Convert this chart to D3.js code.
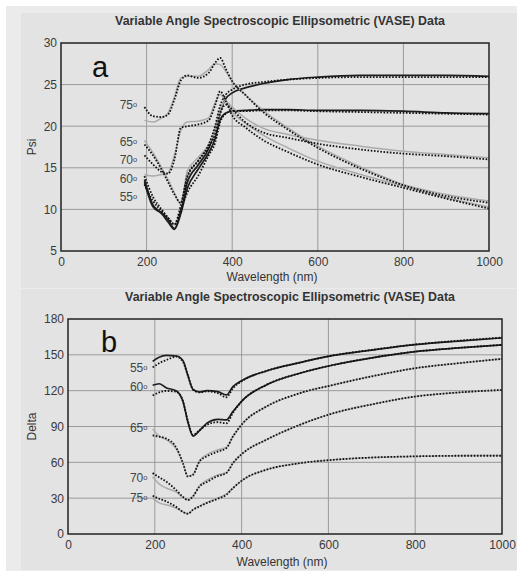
<!DOCTYPE html>
<meta charset="utf-8">
<html>
<head>
<script src="https://cdn.jsdelivr.net/npm/d3@7"></script>
<style>
  body { margin: 0; background: #fff; }
  text { font-family: "Liberation Sans", Arial, sans-serif; }
</style>
</head>
<body>
<div id="chart"></div>
<script>

// ---- data ----
var title = "Variable Angle Spectroscopic Ellipsometric (VASE) Data";
var angles = [55, 60, 65, 70, 75];
var xTicks = [0, 200, 400, 600, 800, 1000];
var psiTicks = [5, 10, 15, 20, 25, 30];
var deltaTicks = [0, 30, 60, 90, 120, 150, 180];

// Psi (top panel)
var wavePsi = [195, 215, 235, 250, 265, 280, 295, 320, 345, 360, 372, 385, 400, 430, 470, 530, 600, 700, 800, 900, 1000];
var psiMeas55 = [13.6, 10.5, 9.6, 8.8, 7.7, 9.8, 13.2, 15.3, 17.3, 19.5, 21.8, 23.3, 24.0, 24.6, 25.1, 25.6, 25.9, 26.1, 26.1, 26.1, 26.0];
var psiModel55 = [13.0, 11.0, 9.8, 9.0, 8.2, 10.5, 13.8, 15.8, 17.8, 20.0, 22.5, 23.8, 24.4, 25.0, 25.3, 25.6, 25.8, 25.9, 25.9, 25.9, 25.9];
var psiMeas60 = [13.3, 10.3, 9.5, 8.5, 7.6, 9.5, 12.5, 14.8, 16.8, 18.5, 20.8, 21.6, 21.8, 21.9, 22.0, 22.0, 21.9, 21.9, 21.8, 21.6, 21.5];
var psiModel60 = [14.0, 11.5, 10.0, 9.0, 8.2, 10.0, 12.0, 14.0, 16.5, 18.0, 20.5, 21.5, 21.8, 21.8, 21.9, 21.9, 21.8, 21.7, 21.6, 21.5, 21.4];
var psiMeas65 = [18.3, 16.8, 15.0, 13.6, 12.0, 10.6, 14.6, 16.2, 17.8, 19.5, 22.0, 23.0, 22.3, 21.0, 19.8, 19.0, 18.3, 17.6, 17.0, 16.6, 16.2];
var psiModel65 = [17.8, 16.5, 14.8, 13.3, 11.8, 10.8, 14.0, 15.8, 17.5, 19.0, 21.5, 22.6, 22.0, 20.5, 19.3, 18.6, 17.9, 17.2, 16.7, 16.4, 16.0];
var psiMeas70 = [14.2, 14.0, 14.2, 14.4, 16.5, 19.5, 20.5, 20.6, 21.0, 22.8, 23.8, 23.0, 21.7, 20.4, 19.0, 17.4, 15.8, 14.2, 12.8, 11.4, 10.3];
var psiModel70 = [16.5, 15.4, 14.5, 14.3, 16.0, 19.8, 20.0, 20.2, 20.7, 22.5, 24.2, 23.0, 21.3, 19.9, 18.4, 16.9, 15.4, 13.9, 12.6, 11.3, 10.1];
var psiMeas75 = [20.7, 20.5, 21.0, 21.6, 23.5, 25.8, 26.0, 26.0, 26.8, 27.5, 27.4, 26.6, 25.4, 23.8, 22.0, 19.8, 17.6, 15.1, 13.0, 11.8, 11.0];
var psiModel75 = [22.3, 21.2, 21.1, 21.4, 23.2, 25.5, 26.1, 25.8, 26.4, 27.6, 28.2, 26.9, 25.4, 23.8, 21.8, 19.6, 17.4, 14.9, 12.9, 11.6, 10.8];
var psiLabelAt = [11.5, 13.6, 18.1, 15.9, 22.5];

// Delta (bottom panel)
var waveDelta = [195, 210, 226, 250, 265, 276, 288, 303, 320, 345, 365, 380, 403, 457, 534, 611, 700, 800, 900, 1000];
var deltaMeas55 = [144.5, 148, 149.5, 149, 145, 133, 121, 118.9, 120, 119.2, 116.4, 123.4, 129, 136.5, 143.5, 149.5, 154, 158.5, 161.5, 164.2];
var deltaModel55 = [139.5, 143, 145.5, 148.5, 144, 133, 121, 118.5, 119.5, 118, 114.5, 122, 128.5, 136.5, 143.5, 149.5, 154.2, 158.7, 161.8, 164.5];
var deltaMeas60 = [124.5, 125.8, 122.5, 119.8, 111, 94, 82, 86.5, 92.8, 96, 95.6, 102.5, 112.3, 124.8, 134.6, 141.5, 147.5, 152.7, 155.8, 158.3];
var deltaModel60 = [116, 118.5, 119.8, 119, 111, 95, 83, 87, 91.4, 93.6, 92.7, 101.5, 112, 124.8, 134.6, 141.5, 147.5, 152.7, 155.8, 158.3];
var deltaMeas65 = [88, 82, 79, 71, 59, 48.5, 50, 61.5, 66.5, 70.5, 72.5, 81.6, 92.8, 106.7, 117.9, 124.8, 132, 138.8, 143, 146.6];
var deltaModel65 = [82.5, 81.5, 80, 72, 59.3, 48.2, 49.6, 60.7, 65, 69, 71.9, 81.6, 92.8, 106.7, 117.9, 124.8, 132, 138.8, 143, 146.6];
var deltaMeas70 = [48, 42, 38.5, 35, 30.5, 28.5, 31.5, 40.5, 45, 49.5, 51.5, 59.3, 67.7, 78.9, 91.4, 101.1, 108.5, 115.1, 118.5, 120.6];
var deltaModel70 = [51, 47.5, 44, 36.5, 31, 28.5, 31.5, 39.8, 43.5, 48.5, 51, 59.3, 67.7, 78.9, 91.4, 101.1, 108.5, 115.1, 118.5, 120.6];
var deltaMeas75 = [30, 26, 24.5, 21.5, 18.5, 17, 20.3, 23.5, 26.5, 30, 33.5, 38.4, 45.4, 53.8, 59.3, 62.1, 64, 65, 65.5, 65.8];
var deltaModel75 = [32, 29.5, 27.3, 22.5, 18.5, 17, 20.3, 23, 25.9, 29.5, 32.9, 38.4, 45.4, 53.8, 59.3, 62.1, 64, 65, 65.5, 65.5];
var deltaLabelAt = [139, 123, 89, 47, 30];

var W = 517, H = 571;

var svg = d3.select('#chart').append('svg')
  .attr('width', W).attr('height', H);

// page backgrounds
svg.append('rect').attr('x', 6).attr('y', 6).attr('width', W - 6).attr('height', H - 6).attr('fill', '#ebebeb');
svg.append('rect').attr('x', 21).attr('y', 13).attr('width', W - 21).attr('height', 275).attr('fill', '#e3e3e3');
svg.append('rect').attr('x', 21).attr('y', 289).attr('width', W - 21).attr('height', 281).attr('fill', '#e3e3e3');

function drawPanel(p) {
  var x = d3.scaleLinear().domain([0, 1000]).range([p.left, p.right]);
  var y = d3.scaleLinear().domain(p.yDomain).range([p.bottom, p.top]);
  var g = svg.append('g');

  // title
  g.append('text').attr('x', (p.left + p.right) / 2 + 5).attr('y', p.titleY)
    .attr('text-anchor', 'middle').attr('font-weight', 'bold')
    .attr('font-size', 12.4).attr('fill', '#333').text(title);

  // grid
  g.selectAll('.vg').data(xTicks.slice(1, -1)).enter().append('line')
    .attr('x1', d => x(d)).attr('x2', d => x(d))
    .attr('y1', p.top).attr('y2', p.bottom)
    .attr('stroke', '#9a9a9a').attr('stroke-width', 1);
  g.selectAll('.hg').data(p.yTicks.slice(1, -1)).enter().append('line')
    .attr('x1', p.left).attr('x2', p.right)
    .attr('y1', d => y(d)).attr('y2', d => y(d))
    .attr('stroke', '#9a9a9a').attr('stroke-width', 1);

  // axes (labels only)
  var xa = g.append('g').attr('transform', 'translate(0,' + p.bottom + ')')
    .call(d3.axisBottom(x).tickValues(xTicks).tickFormat(d3.format('d')).tickSize(0).tickPadding(p.xPad));
  var ya = g.append('g').attr('transform', 'translate(' + p.left + ',0)')
    .call(d3.axisLeft(y).tickValues(p.yTicks).tickFormat(d3.format('d')).tickSize(0).tickPadding(4));
  [xa, ya].forEach(function(a) {
    a.select('.domain').remove();
    a.selectAll('text').attr('font-size', 12).attr('fill', '#3a3a3a')
      .style('font-family', '"Liberation Sans", Arial, sans-serif');
  });

  // series
  var line = d3.line().x(d => x(d[0])).y(d => y(d[1])).curve(d3.curveMonotoneX);
  p.meas.forEach(function(vals, i) {
    g.append('path').datum(p.wave.map((w, j) => [w, vals[j]]))
      .attr('d', line).attr('fill', 'none')
      .attr('stroke', i < 2 ? '#1e1e1e' : '#ababab')
      .attr('stroke-width', i < 2 ? 1.7 : 1.5);
  });
  p.model.forEach(function(vals) {
    g.append('path').datum(p.wave.map((w, j) => [w, vals[j]]))
      .attr('d', line).attr('fill', 'none')
      .attr('stroke', '#111').attr('stroke-width', 1.8)
      .attr('stroke-dasharray', '1.6,1.6');
  });

  // angle labels
  angles.forEach(function(a, i) {
    var t = g.append('text').attr('x', x(p.labelX)).attr('y', y(p.labelAt[i]) + 4)
      .attr('text-anchor', 'end').attr('font-size', 12).attr('fill', '#444');
    t.append('tspan').text(a);
    t.append('tspan').attr('font-size', 7.5).attr('dy', -2).text('o');
  });

  // frame
  g.append('rect').attr('x', p.left).attr('y', p.top)
    .attr('width', p.right - p.left).attr('height', p.bottom - p.top)
    .attr('fill', 'none').attr('stroke', '#222').attr('stroke-width', 1.5);

  // panel letter
  g.append('text').attr('x', p.letterX).attr('y', p.letterY)
    .attr('font-size', 29).attr('fill', '#111').text(p.letter);

  // axis titles
  g.append('text').attr('x', (p.left + p.right) / 2 - 3).attr('y', p.xTitleY)
    .attr('text-anchor', 'middle').attr('font-size', 12).attr('fill', '#333')
    .text('Wavelength (nm)');
  g.append('text').attr('transform', 'translate(' + p.yTitleX + ',' + (p.top + p.bottom) / 2 + ') rotate(-90)')
    .attr('text-anchor', 'middle').attr('font-size', 12).attr('fill', '#333')
    .text(p.yTitle);
}

drawPanel({
  left: 61, right: 489, top: 43, bottom: 251,
  yDomain: [5, 30], yTicks: psiTicks, titleY: 25, xPad: 6,
  wave: wavePsi,
  meas: [psiMeas55, psiMeas60, psiMeas65, psiMeas70, psiMeas75],
  model: [psiModel55, psiModel60, psiModel65, psiModel70, psiModel75],
  labelAt: psiLabelAt, labelX: 178,
  letter: 'a', letterX: 92, letterY: 77,
  xTitleY: 281, yTitleX: 36, yTitle: 'Psi'
});

drawPanel({
  left: 68, right: 502, top: 319, bottom: 534,
  yDomain: [0, 180], yTicks: deltaTicks, titleY: 301, xPad: 6,
  wave: waveDelta,
  meas: [deltaMeas55, deltaMeas60, deltaMeas65, deltaMeas70, deltaMeas75],
  model: [deltaModel55, deltaModel60, deltaModel65, deltaModel70, deltaModel75],
  labelAt: deltaLabelAt, labelX: 183,
  letter: 'b', letterX: 101, letterY: 352,
  xTitleY: 566, yTitleX: 36, yTitle: 'Delta'
});

</script>
</body>
</html>
